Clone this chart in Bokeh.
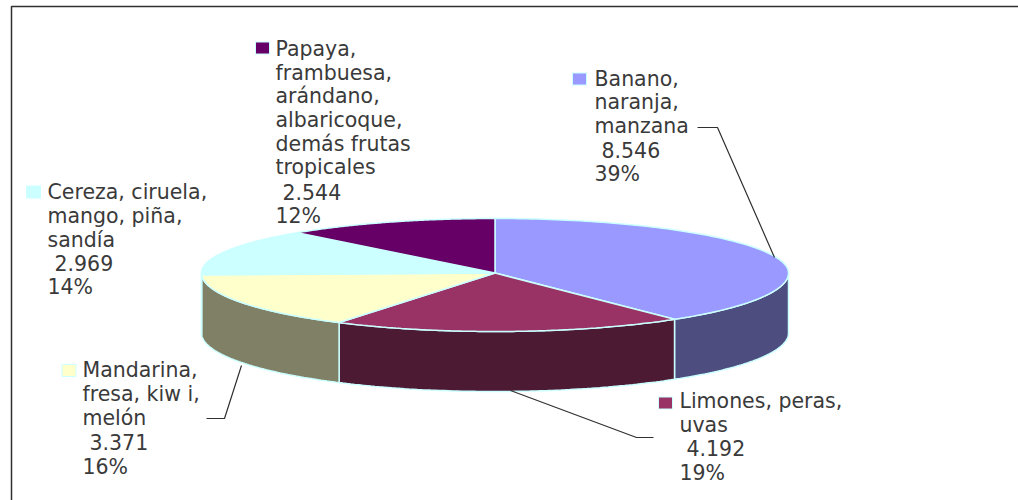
import numpy as np
from bokeh.core.properties import value
from bokeh.embed import file_html
from bokeh.models import Range1d
from bokeh.plotting import figure
from bokeh.resources import INLINE

# Data
categories = [
    ["Banano,", "naranja,", "manzana"],
    ["Limones, peras,", "uvas"],
    ["Mandarina,", "fresa, kiw i,", "melón"],
    ["Cereza, ciruela,", "mango, piña,", "sandía"],
    ["Papaya,", "frambuesa,", "arándano,", "albaricoque,", "demás frutas", "tropicales"],
]
values = [8546, 4192, 3371, 2969, 2544]
value_labels = ["8.546", "4.192", "3.371", "2.969", "2.544"]
percent_labels = ["39%", "19%", "16%", "14%", "12%"]

# Styles and layout
top_colors = ["#9999FF", "#993366", "#FFFFCC", "#CCFFFF", "#660066"]
side_colors = ["#4D4D80", "#4D1A33", "#808066", "#668080", "#330033"]
edge_color = "#CCFFFF"
text_color = "#3A3A3A"
font = "DejaVu Sans"
font_size = "20.5px"
cx, cy, rx, ry_back, ry_front, depth = 494.5, 272.5, 293.5, 54.5, 58.5, 60.0
text_x = [594, 679, 82, 47, 275]
text_y = [
    [78, 101, 125, 149, 173],
    [400, 424, 447, 472],
    [369, 393, 417, 441, 466],
    [191, 215, 239, 262, 286],
    [48, 72, 95, 119, 143, 166, 191, 215],
]
key_x = [579, 665, 68.5, 33, 262]
key_y = [78.5, 402.5, 370, 191.5, 47.5]
key_w, key_h = 14, 12
value_indent = 7
leaders = [
    ([697, 717, 774], [127, 127, 257]),
    ([510, 636, 653], [390, 437, 437]),
    ([206, 224, 241], [418, 418, 365]),
]
frame_x = [11, 11, 1018]
frame_y = [500, 6, 6]

p = figure(
    width=1018, height=500, output_backend="svg", toolbar_location=None,
    x_range=Range1d(0, 1018), y_range=Range1d(500, 0),
    min_border=0, margin=(0, 0, 0, 0),
)
p.axis.visible = False
p.grid.visible = False
p.outline_line_color = None
p.background_fill_color = "white"
p.border_fill_color = "white"

p.line(frame_x, frame_y, line_color="#303030", line_width=1.5)

# Slice angles, clockwise from the top of the disc
fractions = np.cumsum([0] + values) / sum(values)
starts, ends = 2 * np.pi * fractions[:-1], 2 * np.pi * fractions[1:]

def rim(t):
    c = np.cos(t)
    return cx + rx * np.sin(t), cy - np.where(c > 0, ry_back, ry_front) * c

# Side wall: visible for the front half of the disc
for a, b, c in zip(starts, ends, side_colors):
    lo, hi = max(a, np.pi / 2), min(b, 3 * np.pi / 2)
    if hi <= lo:
        continue
    t = np.linspace(lo, hi, 80)
    x, y = rim(t)
    xs = np.concatenate([x, x[::-1]])
    ys = np.concatenate([y, (y + depth)[::-1]])
    p.patch(xs, ys, fill_color=c, line_color=edge_color, line_width=1.5)

# Top faces
for a, b, c in zip(starts, ends, top_colors):
    t = np.linspace(a, b, 120)
    x, y = rim(t)
    p.patch(np.r_[cx, x], np.r_[cy, y], fill_color=c, line_color=edge_color, line_width=1.5)

# Leader lines
for lx, ly in leaders:
    p.line(lx, ly, line_color="#303030", line_width=1.2)

# Legend keys
p.rect(key_x, key_y, width=key_w, height=key_h, fill_color=top_colors,
       line_color=edge_color, line_width=1)

# Labels
tx, ty, tt = [], [], []
for i, lines in enumerate(categories):
    full = lines + [value_labels[i], percent_labels[i]]
    for j, s in enumerate(full):
        indent = value_indent if j == len(lines) else 0
        tx.append(text_x[i] + indent)
        ty.append(text_y[i][j])
        tt.append(s)
p.text(tx, ty, text=tt, text_font=value(font), text_font_size=value(font_size),
       text_color=text_color, text_align="left", text_baseline="middle")

open("out.html", "w").write(file_html(p, INLINE))
